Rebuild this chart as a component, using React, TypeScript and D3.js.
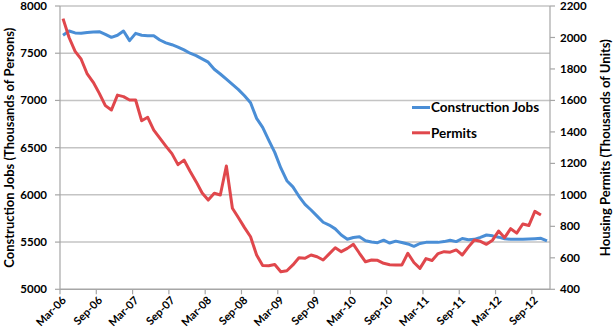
import React from "react";
import * as d3 from "d3";

// Monthly categories start at Mar-2006
const startMonth = new Date(2006, 2, 1);
const monthCount = 81; // Mar-06 .. Nov-12 (axis extent)

const constructionJobs = [
  7690, 7735, 7715, 7712, 7720, 7725, 7728, 7700, 7668, 7690,
  7735, 7633, 7710, 7690, 7685, 7685, 7640, 7610, 7590, 7565,
  7535, 7500, 7475, 7440, 7405, 7330, 7280, 7225, 7170, 7115,
  7050, 6975, 6810, 6715, 6580, 6450, 6285, 6150, 6085, 5985,
  5900, 5840, 5775, 5710, 5680, 5640, 5575, 5530, 5548, 5557,
  5515, 5500, 5494, 5520, 5490, 5510, 5495, 5480, 5455, 5485,
  5497, 5497, 5497, 5505, 5520, 5505, 5538, 5525, 5529, 5550,
  5575, 5566, 5552, 5535, 5529, 5529, 5529, 5533, 5536, 5540,
  5512,
];

const permits = [
  2120, 2000, 1912, 1862, 1768, 1715, 1645, 1567, 1539, 1634,
  1624, 1603, 1603, 1471, 1493, 1412, 1360, 1310, 1262, 1192,
  1221, 1150, 1084, 1012, 967, 1010, 999, 1183, 915, 855,
  792, 734, 618, 551, 550, 558, 512, 518, 555, 600,
  597, 618, 607, 586, 625, 664, 639, 660, 686, 629,
  575, 586, 584, 565, 556, 554, 554, 629, 570, 533,
  595, 583, 627, 639, 636, 650, 618, 668, 713, 705,
  686, 712, 770, 728, 785, 757, 815, 805, 895, 872,
];

const leftTicks = [5000, 5500, 6000, 6500, 7000, 7500, 8000];
const rightTicks = [400, 600, 800, 1000, 1200, 1400, 1600, 1800, 2000, 2200];
const xTickLabels = [
  "Mar-06", "Sep-06", "Mar-07", "Sep-07", "Mar-08", "Sep-08", "Mar-09",
  "Sep-09", "Mar-10", "Sep-10", "Mar-11", "Sep-11", "Mar-12", "Sep-12",
];
const seriesNames = ["Construction Jobs", "Permits"];
const seriesColors = ["#4a8ed6", "#e0474c"];

const FONT = "Lato, 'Open Sans', sans-serif";

export default function App() {
  const left = 60;
  const right = 550;
  const top = 6;
  const bottom = 289.3;

  const months = d3.timeMonth.range(startMonth, d3.timeMonth.offset(startMonth, monthCount));
  const x = d3.scaleLinear().domain([0, months.length]).range([left, right]);
  const yL = d3.scaleLinear().domain([5000, 8000]).range([bottom, top]);
  const yR = d3.scaleLinear().domain([400, 2200]).range([bottom, top]);

  const lineL = d3
    .line<number>()
    .x((_, i) => x(i + 0.5))
    .y((d) => yL(d));
  const lineR = d3
    .line<number>()
    .x((_, i) => x(i + 0.5))
    .y((d) => yR(d));

  const fmt = d3.timeFormat("%b-%y");
  const xTicks = xTickLabels.map((lab) => {
    const idx = months.findIndex((m) => fmt(m) === lab);
    return { lab, idx };
  });

  const gridColor = "#c4c4c4";
  const axisColor = "#a6a6a6";

  return (
    <svg
      width={615}
      height={335}
      style={{ position: "absolute", left: 0, top: 0, background: "#fff" }}
      fontFamily={FONT}
    >
      {/* gridlines */}
      {leftTicks.map((t) => (
        <line key={"g" + t} x1={left} x2={right} y1={yL(t)} y2={yL(t)} stroke={gridColor} strokeWidth={1.5} />
      ))}
      {/* left axis */}
      <line x1={left} x2={left} y1={top} y2={bottom} stroke={axisColor} strokeWidth={1.2} />
      {leftTicks.map((t) => (
        <g key={"l" + t}>
          <line x1={left - 5} x2={left} y1={yL(t)} y2={yL(t)} stroke={axisColor} strokeWidth={1.2} />
          <text x={47} y={yL(t)} dy="0.35em" textAnchor="end" fontSize={11.5} fontWeight="bold" fill="#000">
            {t}
          </text>
        </g>
      ))}
      {/* right axis */}
      <line x1={right} x2={right} y1={top} y2={bottom} stroke={axisColor} strokeWidth={1.2} />
      {rightTicks.map((t) => (
        <g key={"r" + t}>
          <line x1={right} x2={right + 5} y1={yR(t)} y2={yR(t)} stroke={axisColor} strokeWidth={1.2} />
          <text x={560} y={yR(t)} dy="0.35em" textAnchor="start" fontSize={11.5} fontWeight="bold" fill="#000">
            {t}
          </text>
        </g>
      ))}
      {/* x axis */}
      <line x1={left} x2={right} y1={bottom} y2={bottom} stroke={axisColor} strokeWidth={1.2} />
      {xTicks.map(({ lab, idx }) => (
        <g key={"x" + lab}>
          <line x1={x(idx)} x2={x(idx)} y1={bottom} y2={bottom + 5} stroke={axisColor} strokeWidth={1.2} />
          <text
            transform={`translate(${x(idx) + 4},${bottom + 9}) rotate(-45)`}
            textAnchor="end"
            dy="0.35em"
            fontSize={11}
            fontWeight="bold"
            fill="#000"
          >
            {lab}
          </text>
        </g>
      ))}
      {/* axis titles */}
      <text
        transform={`translate(13.5,${(top + bottom) / 2}) rotate(-90)`}
        textAnchor="middle"
        fontSize={12.5}
        fontWeight="bold"
        fill="#000"
        textLength={240}
        lengthAdjust="spacingAndGlyphs"
      >
        Construction Jobs (Thousands of Persons)
      </text>
      <text
        transform={`translate(610,${(top + bottom) / 2}) rotate(-90)`}
        textAnchor="middle"
        fontSize={12.5}
        fontWeight="bold"
        fill="#000"
        textLength={217}
        lengthAdjust="spacingAndGlyphs"
      >
        Housing Permits (Thousands of Units)
      </text>
      {/* lines */}
      <path d={lineL(constructionJobs) || ""} fill="none" stroke={seriesColors[0]} strokeWidth={3} strokeLinejoin="round" />
      <path d={lineR(permits) || ""} fill="none" stroke={seriesColors[1]} strokeWidth={3} strokeLinejoin="round" />
      {/* legend */}
      {seriesNames.map((name, i) => (
        <g key={name} transform={`translate(412,${107.5 + i * 25.3})`}>
          <line x1={0} x2={18} y1={0} y2={0} stroke={seriesColors[i]} strokeWidth={3} />
          <text x={19} y={0} dy="0.35em" fontSize={13.5} fontWeight="bold" fill="#000">
            {name}
          </text>
        </g>
      ))}
    </svg>
  );
}
